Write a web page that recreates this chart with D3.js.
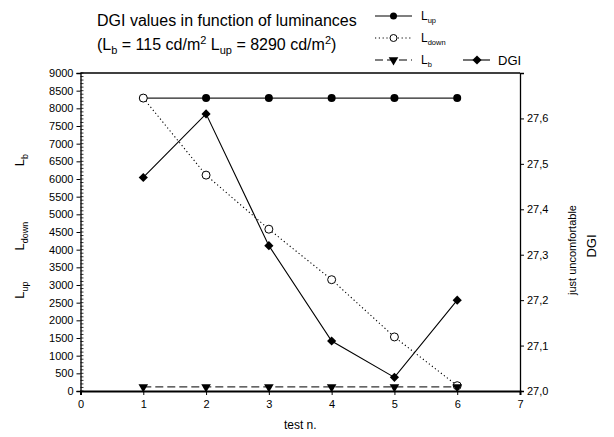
<!DOCTYPE html>
<html><head><meta charset="utf-8">
<script src="https://cdn.jsdelivr.net/npm/d3@7"></script>
<style>
body{margin:0;background:#fff;}
text{font-family:"Liberation Sans",Arial,sans-serif;fill:#000;}
</style></head>
<body>
<svg id="c" width="614" height="437"></svg>
<script>
const tests = [1, 2, 3, 4, 5, 6];
const Lup = [8290, 8290, 8290, 8290, 8290, 8290];
const Ldown = [8290, 6110, 4580, 3150, 1530, 150];
const Lb = [115, 115, 115, 115, 115, 115];
const DGI = [27.47, 27.61, 27.32, 27.11, 27.03, 27.20];
const xTicks = [0, 1, 2, 3, 4, 5, 6, 7];
const yLeftTicks = d3.range(0, 9001, 500);
const yLeftMinor = d3.range(0, 9001, 100);
const yRightTicks = [27.0, 27.1, 27.2, 27.3, 27.4, 27.5, 27.6];

const svg = d3.select("#c");
const L = 80.5, R = 520, T = 73, B = 391;
const x = d3.scaleLinear().domain([0, 7]).range([L, R]);
const yL = d3.scaleLinear().domain([0, 9000]).range([B, T]);
const yR = d3.scaleLinear().domain([27.0, 27.7]).range([B, T]);

// frame
svg.append("line").attr("x1", L).attr("x2", R).attr("y1", T).attr("y2", T).attr("stroke", "#000").attr("stroke-width", 1.3);

// left axis
const gL = svg.append("g").attr("transform", `translate(${L},0)`);
gL.call(d3.axisLeft(yL).tickValues(yLeftTicks).tickSize(4).tickPadding(3).tickFormat(d3.format("d")));
gL.selectAll(".minor").data(yLeftMinor).enter().append("line")
  .attr("x1", 0).attr("x2", 3).attr("y1", d => yL(d)).attr("y2", d => yL(d)).attr("stroke", "#000").attr("stroke-width", 0.8);

// right axis
const gR = svg.append("g").attr("transform", `translate(${R},0)`);
gR.call(d3.axisRight(yR).tickValues(yRightTicks).tickSize(4).tickPadding(3).tickFormat(d => d3.format(".1f")(d).replace(".", ",")));

// bottom axis
const gB = svg.append("g").attr("transform", `translate(0,${B})`);
gB.call(d3.axisBottom(x).tickValues(xTicks).tickSize(4).tickPadding(5).tickFormat(d3.format("d")));

[gL, gR, gB].forEach(g => {
  g.selectAll("path.domain").attr("stroke", "#000").attr("stroke-width", 1.3);
  g.selectAll(".tick line").attr("stroke", "#000");
  g.selectAll("text").attr("font-size", 11).attr("font-family", "Liberation Sans, Arial, sans-serif");
});
gB.select("path.domain").attr("stroke-width", 2);

const lineL = d3.line().x((d, i) => x(tests[i])).y(d => yL(d));
const lineR = d3.line().x((d, i) => x(tests[i])).y(d => yR(d));

// Lup
svg.append("path").attr("d", lineL(Lup)).attr("fill", "none").attr("stroke", "#222").attr("stroke-width", 1.2);
svg.selectAll(".lup").data(Lup).enter().append("circle")
  .attr("cx", (d, i) => x(tests[i])).attr("cy", d => yL(d)).attr("r", 4).attr("fill", "#000");

// Ldown
svg.append("path").attr("d", lineL(Ldown)).attr("fill", "none").attr("stroke", "#000").attr("stroke-width", 1.1).attr("stroke-dasharray", "1.2,2.6");
svg.selectAll(".ldown").data(Ldown).enter().append("circle")
  .attr("cx", (d, i) => x(tests[i])).attr("cy", d => yL(d)).attr("r", 4).attr("fill", "#fff").attr("stroke", "#000").attr("stroke-width", 1);

// Lb
svg.append("path").attr("d", lineL(Lb)).attr("fill", "none").attr("stroke", "#333").attr("stroke-width", 1.2).attr("stroke-dasharray", "8,4");
const tri = d3.symbol().type(d3.symbolTriangle).size(40);
svg.selectAll(".lb").data(Lb).enter().append("path")
  .attr("d", tri).attr("transform", (d, i) => `translate(${x(tests[i])},${yL(d)}) rotate(180)`).attr("fill", "#000");

// DGI
svg.append("path").attr("d", lineR(DGI)).attr("fill", "none").attr("stroke", "#000").attr("stroke-width", 1.1);
const dia = d3.symbol().type(d3.symbolSquare).size(42);
svg.selectAll(".dgi").data(DGI).enter().append("path")
  .attr("d", dia).attr("transform", (d, i) => `translate(${x(tests[i])},${yR(d)}) rotate(45)`).attr("fill", "#000");

// axis titles
svg.append("text").attr("x", (L + R) / 2).attr("y", 429).attr("text-anchor", "middle").attr("font-size", 12).text("test n.");

function sub(t, base, s, fs, sfs) {
  t.append("tspan").text(base);
  t.append("tspan").attr("font-size", sfs).attr("dy", fs * 0.28).text(s);
}
const yTitles = [["up", 290], ["down", 236], ["b", 160]];
yTitles.forEach(([s, cy]) => {
  const t = svg.append("text").attr("transform", `translate(24,${cy}) rotate(-90)`).attr("text-anchor", "middle").attr("font-size", 13);
  sub(t, "L", s, 13, 9);
});

svg.append("text").attr("transform", `translate(576,250) rotate(-90)`).attr("text-anchor", "middle").attr("font-size", 11).text("just uncomfortable");
svg.append("text").attr("transform", `translate(596,246) rotate(-90)`).attr("text-anchor", "middle").attr("font-size", 13).text("DGI");

// title
svg.append("text").attr("x", 97).attr("y", 26).attr("font-size", 16).text("DGI values in function of luminances");
const t2 = svg.append("text").attr("x", 97).attr("y", 50).attr("font-size", 16);
t2.append("tspan").text("(L");
t2.append("tspan").attr("font-size", 11).attr("dy", 4).text("b");
t2.append("tspan").attr("dy", -4).text(" = 115 cd/m");
t2.append("tspan").attr("font-size", 11).attr("dy", -6).text("2");
t2.append("tspan").attr("dy", 6).text(" L");
t2.append("tspan").attr("font-size", 11).attr("dy", 4).text("up");
t2.append("tspan").attr("dy", -4).text(" = 8290 cd/m");
t2.append("tspan").attr("font-size", 11).attr("dy", -6).text("2");
t2.append("tspan").attr("dy", 6).text(")");

// legend
const legend = [
  {name: "up", y: 16, dash: null, mark: "fill"},
  {name: "down", y: 38, dash: "1.2,2.6", mark: "open"},
  {name: "b", y: 60, dash: "8,4", mark: "tri"}
];
const lx0 = 375, lx1 = 412;
legend.forEach(l => {
  svg.append("line").attr("x1", lx0).attr("x2", lx1).attr("y1", l.y).attr("y2", l.y).attr("stroke", "#000").attr("stroke-width", 1.1).attr("stroke-dasharray", l.dash);
  const cx = (lx0 + lx1) / 2;
  if (l.mark === "fill") svg.append("circle").attr("cx", cx).attr("cy", l.y).attr("r", 3.5).attr("fill", "#000");
  if (l.mark === "open") svg.append("circle").attr("cx", cx).attr("cy", l.y).attr("r", 3.5).attr("fill", "#fff").attr("stroke", "#000");
  if (l.mark === "tri") svg.append("path").attr("d", tri).attr("transform", `translate(${cx},${l.y}) rotate(180)`).attr("fill", "#000");
  const t = svg.append("text").attr("x", 421).attr("y", l.y + 4).attr("font-size", 12);
  sub(t, "L", l.name, 12, 7.5);
});
svg.append("line").attr("x1", 463).attr("x2", 490).attr("y1", 60).attr("y2", 60).attr("stroke", "#000").attr("stroke-width", 1.1);
svg.append("path").attr("d", dia).attr("transform", `translate(477,60) rotate(45)`).attr("fill", "#000");
svg.append("text").attr("x", 498).attr("y", 64.5).attr("font-size", 13).text("DGI");
</script>
</body></html>
